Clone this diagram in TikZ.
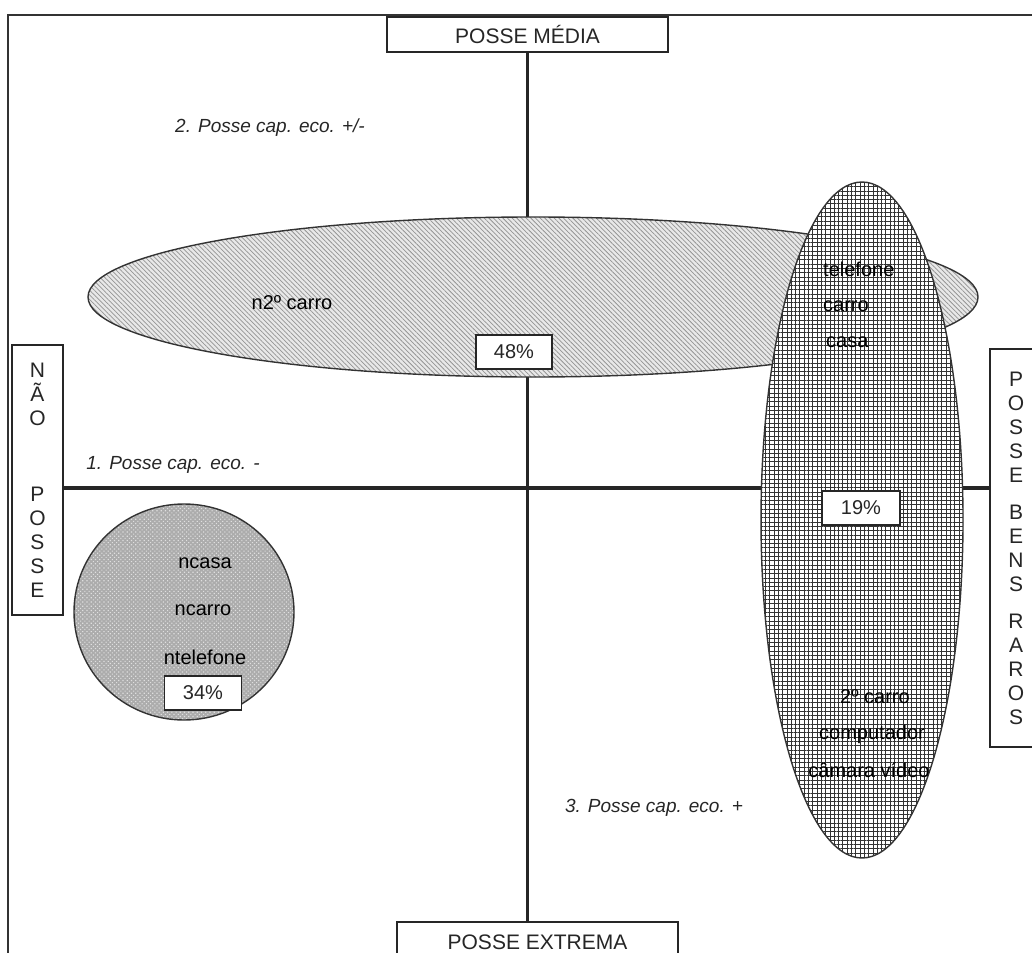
\documentclass[tikz,border=0pt]{standalone}
\usepackage{fontspec}
\setmainfont{Liberation Sans}
\usetikzlibrary{patterns.meta}
\begin{document}
\begin{tikzpicture}[x=1pt,y=-1pt,
  titlebox/.style={draw=black!85, line width=1.6pt, fill=white, inner sep=0pt,
    font=\fontsize{21}{24}\selectfont, text=black!85},
  sidebox/.style={titlebox, align=center},
  pctbox/.style={draw=black!85, line width=1.4pt, fill=white, minimum width=76pt,
    minimum height=34pt, inner sep=0pt, font=\fontsize{20}{24}\selectfont, text=black!85},
  lbl/.style={font=\fontsize{20}{24}\selectfont, inner sep=0pt, text=black},
  grp/.style={font=\fontsize{19}{24}\selectfont\itshape, inner sep=0pt, text=black!85},
  axis/.style={line width=3.4pt, draw=black!85},
  region/.style={draw=black!80, line width=1.4pt},
]
\useasboundingbox (0,0) rectangle (1032,952);

% outer frame
\coordinate (fbl) at (8,960);
\coordinate (ftl) at (8,15);
\coordinate (ftr) at (1040,15);
\draw[line width=2.4pt, black!80] (fbl) -- (ftl) -- (ftr);

% axis end boxes
\node[titlebox, minimum width=281pt, minimum height=35pt] (media) at (527.5,34.5) {POSSE MÉDIA};
\node[titlebox, minimum width=281pt, minimum height=40pt] (extrema) at (537.5,942) {POSSE EXTREMA};
\node[sidebox, minimum width=51pt, minimum height=270pt] (nao) at (37.5,480)
  {\baselineskip=22pt N\\Ã\\O\\[52pt]P\\O\\S\\S\\E};
\node[sidebox, minimum width=52pt, minimum height=398pt] (raros) at (1016,548)
  {\baselineskip=23.5pt P\\O\\S\\S\\E\\[13pt]B\\E\\N\\S\\[13pt]R\\A\\R\\O\\S};

% axes
\coordinate (hy) at (0,488);
\draw[axis] (media.south) -- (media.south |- extrema.north);
\draw[axis] (nao.east |- hy) -- (raros.west |- hy);

% group 2: wide hatched ellipse
\draw[region, preaction={fill=gray!18},
  pattern={Lines[angle=-45,distance=3.3pt,line width=0.75pt]}, pattern color=gray!85]
  (533,297) ellipse [x radius=445pt, y radius=80pt];

% group 3: tall gridded ellipse
\draw[region, preaction={fill=white},
  pattern={Hatch[angle=0,distance=4.3pt,line width=0.75pt]}, pattern color=black!80]
  (862,520) ellipse [x radius=101pt, y radius=338pt];

% group 1: dotted disc
\draw[region, preaction={fill=gray!65},
  pattern={Dots[distance=3pt,radius=0.8pt,angle=45]}, pattern color=gray!25]
  (184,612) ellipse [x radius=110pt, y radius=108pt];

% group titles
\node[grp] (g2) at (270,128) {2. Posse cap. eco. +/-};
\node[grp] (g1) at (173,465) {1. Posse cap. eco. -};
\node[grp] (g3) at (654,808) {3. Posse cap. eco. +};

% group 2 contents
\node[lbl] (n2c) at (292,303) {n2º carro};
\node[pctbox] (p48) at (514,352) {48\%};

% group 3 contents
\node[lbl, anchor=west] (tel) at (823,269) {telefone};
\node[lbl, anchor=west] (car) at (823,306) {carro};
\node[lbl, anchor=west] (cas) at (826,342) {casa};
\node[pctbox, minimum width=78pt] (p19) at (861,508) {19\%};
\node[lbl] (c2) at (875,697) {2º carro};
\node[lbl] (comp) at (872,734) {computador};
\node[lbl] (cam) at (869,770) {câmara vídeo};

% group 1 contents
\node[lbl] (nca) at (205,563) {ncasa};
\node[lbl] (ncr) at (203,610) {ncarro};
\node[lbl] (ntel) at (205,657) {ntelefone};
\node[pctbox, minimum width=77pt] (p34) at (203,693) {34\%};
\end{tikzpicture}
\end{document}
